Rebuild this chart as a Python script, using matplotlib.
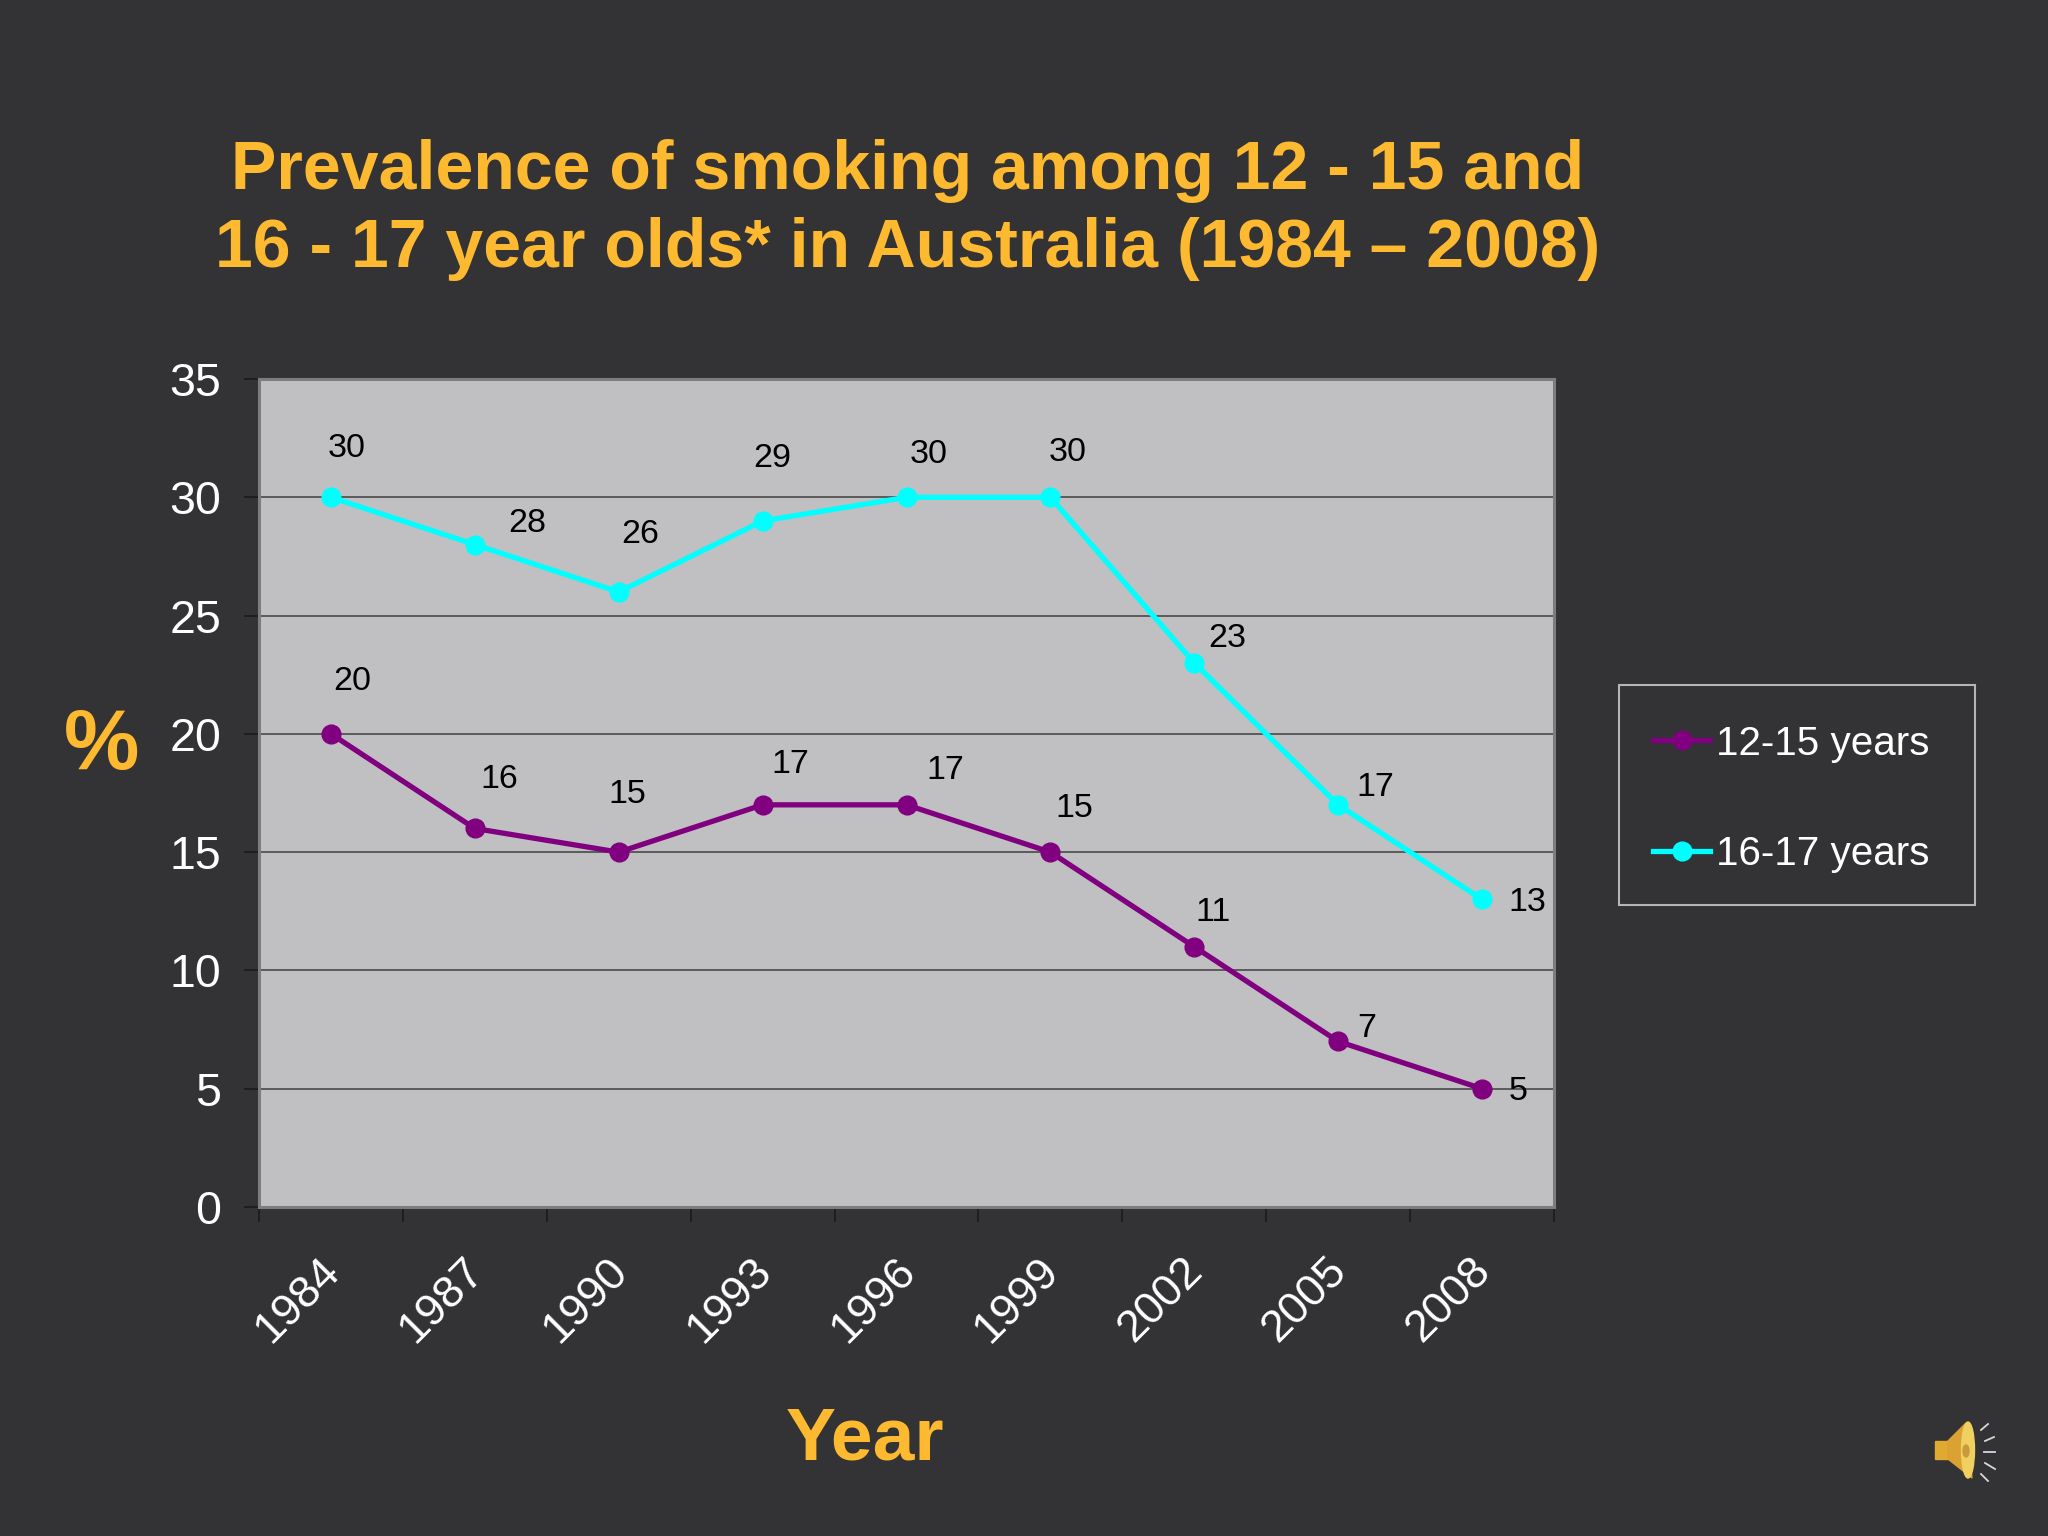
import matplotlib
matplotlib.use("Agg")
import matplotlib.pyplot as plt
from matplotlib.patches import Ellipse, Polygon, Rectangle
from matplotlib.transforms import ScaledTranslation

plt.rcParams['font.family'] = ['Liberation Sans', 'DejaVu Sans']

years = ['1984', '1987', '1990', '1993', '1996', '1999', '2002', '2005', '2008']
ages_12_15 = [20, 16, 15, 17, 17, 15, 11, 7, 5]
ages_16_17 = [30, 28, 26, 29, 30, 30, 23, 17, 13]
y_ticks = [0, 5, 10, 15, 20, 25, 30, 35]

title = 'Prevalence of smoking among 12 - 15 and\n16 - 17 year olds* in Australia (1984 \u2013 2008)'

# hand placed data labels, offsets in pixels from the point
offsets_12_15 = [(21, 52), (24, 49), (9, 58), (28, 40), (39, 34), (24, 44), (19, 34), (29, 13), (36, -3)]
offsets_16_17 = [(16, 49), (52, 21), (21, 57), (10, 62), (22, 43), (17, 45), (33, 24), (37, 17), (45, -3)]

BG = '#333234'
PLOT_BG = '#c0bfc1'
GOLD = '#fdb92f'
PURPLE = '#800080'
CYAN = '#00ffff'
W, H = 2048, 1536

fig = plt.figure(figsize=(W / 100, H / 100), dpi=100, facecolor=BG)
ax = fig.add_axes([259 / W, (H - 1207) / H, (1554 - 259) / W, (1207 - 379) / H], facecolor=PLOT_BG)

xs = list(range(len(years)))
ax.plot(xs, ages_12_15, color=PURPLE, lw=3.8, marker='o', ms=13.5, label='12-15 years', zorder=3)
ax.plot(xs, ages_16_17, color=CYAN, lw=3.8, marker='o', ms=13.5, label='16-17 years', zorder=3)

for vals, offs in ((ages_12_15, offsets_12_15), (ages_16_17, offsets_16_17)):
    for x, v, off in zip(xs, vals, offs):
        ax.annotate(str(v), (x, v), xytext=off, textcoords='offset pixels',
                    ha='center', va='center', fontsize=24.5, color='black', zorder=4)

ax.set_xlim(-0.5, 8.5)
ax.set_ylim(0, 35)
ax.set_yticks(y_ticks)
ax.tick_params(axis='y', labelsize=33.5, labelcolor='white', color='#1a1a1a', length=11, width=1.2, pad=16)
ax.set_xticks(xs, years, rotation=45, ha='right', rotation_mode='anchor')
ax.set_xticks([i - 0.5 for i in range(len(years) + 1)], minor=True)
ax.tick_params(axis='x', which='major', length=0, labelsize=32.5, labelcolor='white', pad=31)
ax.tick_params(axis='x', which='minor', length=11, width=1.2, color='#1a1a1a')
shift = ScaledTranslation(-12 / 100, 0, fig.dpi_scale_trans)
for lab in ax.get_xticklabels():
    lab.set_transform(lab.get_transform() + shift)
ax.grid(axis='y', color='#4a4a4a', lw=1.2, zorder=1)
ax.set_axisbelow(True)
for spine in ax.spines.values():
    spine.set_color('#7d7d7f')
    spine.set_linewidth(2.2)

fig.text(908 / W, (H - 210) / H, title, ha='center', va='center', fontsize=49, fontweight='bold',
         color=GOLD, linespacing=1.27)
fig.text(102 / W, (H - 747) / H, '%', ha='center', va='center', fontsize=61, fontweight='bold', color=GOLD)
fig.text(865 / W, (H - 1440) / H, 'Year', ha='center', va='center', fontsize=54, fontweight='bold', color=GOLD)

fig.legend(loc='center left', bbox_to_anchor=(1653 / W, (H - 799) / H), frameon=False,
           fontsize=29.1, labelcolor='white', borderaxespad=0, borderpad=0,
           labelspacing=1.8, handlelength=1.42, handletextpad=0.15)

# overlay in pixel coordinates: legend box and the little speaker icon
icon = fig.add_axes([0, 0, 1, 1], facecolor='none')
icon.set_xlim(0, W)
icon.set_ylim(H, 0)
icon.axis('off')
icon.add_patch(Rectangle((1619, 685), 356, 220, fill=False, edgecolor='#b5b5b5', lw=1.5))
icon.add_patch(Rectangle((1935, 1441), 16, 18, color='#e0a92f'))
icon.add_patch(Polygon([(1948, 1441), (1966, 1423), (1972, 1478), (1948, 1459)], color='#d9a233'))
icon.add_patch(Ellipse((1968, 1450), 13, 56, color='#efd060'))
icon.add_patch(Ellipse((1966, 1451), 6, 12, color='#c79a3a'))
for x0, y0, x1, y1 in [(1981, 1430, 1988, 1424), (1985, 1441, 1994, 1437), (1984, 1452, 1995, 1452),
                       (1985, 1463, 1995, 1469), (1981, 1474, 1988, 1481)]:
    icon.plot([x0, x1], [y0, y1], color='#d8d8d8', lw=1.3)

fig.savefig('out.png', dpi=100, facecolor=BG)
